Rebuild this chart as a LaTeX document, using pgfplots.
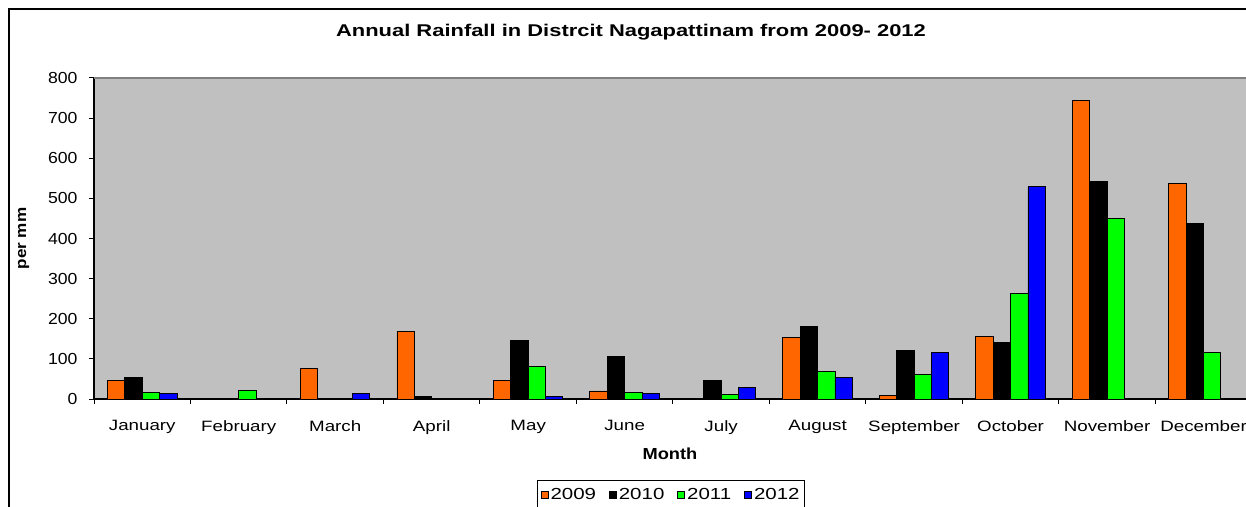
\documentclass[border=0pt]{standalone}
\usepackage{pgfplots}
\pgfplotsset{compat=1.18}
\usepackage{fontspec}
\setmainfont{Liberation Sans}
\newfontfamily\titlefont[FakeStretch=1.29]{Liberation Sans}
\newfontfamily\monthfont[FakeStretch=1.25]{Liberation Sans}
\newfontfamily\ytickfont[FakeStretch=1.1]{Liberation Sans}
\newfontfamily\labfont[FakeStretch=1.14]{Liberation Sans}
\newfontfamily\legfont[FakeStretch=1.28]{Liberation Sans}
\definecolor{plotbg}{RGB}{192,192,192}
\definecolor{c2009}{RGB}{255,102,0}
\definecolor{c2010}{RGB}{0,0,0}
\definecolor{c2011}{RGB}{0,255,0}
\definecolor{c2012}{RGB}{0,0,255}
\begin{document}
\begin{tikzpicture}
\begin{axis}[
  at={(94pt,107pt)}, anchor=south west,
  scale only axis, width=1152pt, height=321pt,
  xmin=-0.5, xmax=11.44, ymin=0, ymax=800,
  ybar=0pt, bar width=0.18,
  axis background/.style={fill=plotbg},
  axis x line*=bottom, axis y line*=left,
  axis line style={black, line width=1.2pt},
  every outer x axis line/.append style={-}, every outer y axis line/.append style={-},
  xtick={0,...,11},
  xticklabels={January,February,March,April,May,June,July,August,September,October,November,December},
  minor xtick={-0.5,0.5,...,11.5},
  major x tick style={draw=none},
  minor x tick style={black, line width=1pt},
  ytick={0,100,...,800},
  y tick style={black, line width=1pt},
  tick align=outside,
  major tick length=5pt, minor tick length=5pt,
  xticklabel style={font=\monthfont\fontsize{15}{18}\selectfont, yshift=-13pt},
  yticklabel style={font=\ytickfont\fontsize{16}{18}\selectfont, xshift=-8pt},
  /pgf/number format/assume math mode=true,
  xlabel={\textbf{Month}},
  xlabel style={font=\labfont\fontsize{16}{18}\selectfont, yshift=-7pt},
  ylabel={\textbf{per mm}},
  ylabel style={font=\labfont\fontsize{15}{18}\selectfont, yshift=12pt},
  title={\textbf{Annual Rainfall in Distrcit Nagapattinam from 2009- 2012}},
  title style={font=\titlefont\fontsize{17}{20}\selectfont, yshift=28pt, xshift=-39pt},
  legend columns=4,
  legend style={at={(0.501,-0.252)}, anchor=north, draw=black, line width=1pt,
    font=\legfont\fontsize{16}{18}\selectfont, inner ysep=6pt, inner xsep=3pt,
    /tikz/every even column/.append style={column sep=11pt}},
  legend image code/.code={\draw[#1, draw=black, line width=0.8pt] (0pt,-3.5pt) rectangle (7pt,3.5pt);},
  every axis plot/.append style={draw=black, line width=0.9pt},
]
\addplot[fill=c2009] coordinates {(0,45) (2,76) (3,169) (4,45) (5,20) (7,153) (8,8) (9,156) (10,745) (11,536)};
\addplot[fill=c2010] coordinates {(0,53) (3,6) (4,145) (5,106) (6,46) (7,181) (8,120) (9,141) (10,541) (11,437)};
\addplot[fill=c2011] coordinates {(0,17) (1,21) (4,81) (5,17) (6,12) (7,68) (8,61) (9,264) (10,449) (11,116)};
\addplot[fill=c2012] coordinates {(0,13) (2,13) (4,6) (5,13) (6,28) (7,54) (8,116) (9,529)};
\legend{2009,2010,2011,2012}
\draw[gray, line width=1.2pt] (rel axis cs:0,1) -- (rel axis cs:1,1);
\end{axis}
\draw[black, line width=2pt] (9pt,-10pt) -- (9pt,497pt) -- (1300pt,497pt);
\pgfresetboundingbox
\useasboundingbox (0,0) rectangle (1246pt,506pt);
\end{tikzpicture}
\end{document}
